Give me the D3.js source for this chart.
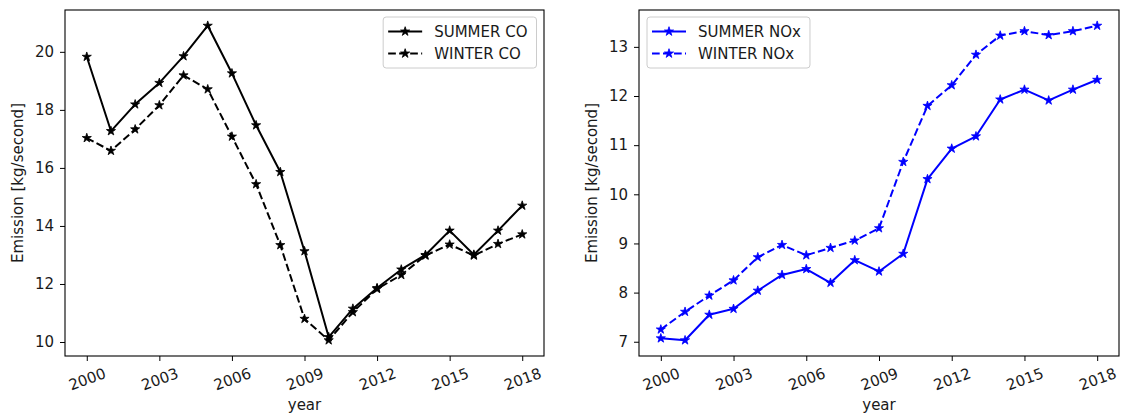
<!DOCTYPE html>
<html>
<head>
<meta charset="utf-8">
<script src="https://cdn.jsdelivr.net/npm/d3@7"></script>
<style>
  body { margin: 0; background: #fff; }
  svg { display: block; }
  text { font-family: "DejaVu Sans", sans-serif; fill: #1a1a1a; }
</style>
</head>
<body>
<svg id="fig" width="1123" height="419"></svg>
<script>
// Annual emissions, 2000–2018
const years = [2000, 2001, 2002, 2003, 2004, 2005, 2006, 2007, 2008, 2009,
               2010, 2011, 2012, 2013, 2014, 2015, 2016, 2017, 2018];
const summerCO = [19.83, 17.27, 18.19, 18.93, 19.85, 20.90, 19.26, 17.47, 15.86, 13.13,
                  10.17, 11.15, 11.86, 12.50, 13.00, 13.84, 13.01, 13.84, 14.70];
const winterCO = [17.03, 16.59, 17.33, 18.16, 19.19, 18.71, 17.08, 15.44, 13.34, 10.80,
                  10.06, 11.03, 11.83, 12.31, 12.98, 13.36, 12.98, 13.38, 13.71];
const summerNOx = [7.07, 7.03, 7.55, 7.67, 8.04, 8.36, 8.48, 8.20, 8.66, 8.43,
                   8.79, 10.31, 10.93, 11.18, 11.93, 12.13, 11.91, 12.13, 12.33];
const winterNOx = [7.25, 7.61, 7.94, 8.25, 8.72, 8.97, 8.76, 8.91, 9.06, 9.31,
                   10.66, 11.80, 12.22, 12.84, 13.23, 13.32, 13.24, 13.32, 13.43];

const yearTicks = [2000, 2003, 2006, 2009, 2012, 2015, 2018];
const coTicks = [10, 12, 14, 16, 18, 20];
const noxTicks = [7, 8, 9, 10, 11, 12, 13];
const coLabels = ["SUMMER CO", "WINTER CO"];
const noxLabels = ["SUMMER NOx", "WINTER NOx"];
const xLabel = "year";
const yLabel = "Emission [kg/second]";

const svg = d3.select("#fig");
const FONT = 15;
const DASH = "7.7,3.3";
const star = d3.symbol().type(d3.symbolStar).size(26);

// matplotlib-style 5% autoscale margin
function padded(values) {
  const [lo, hi] = d3.extent(values);
  const m = (hi - lo) * 0.05;
  return [lo - m, hi + m];
}

function drawPanel(cfg) {
  const { left, right, top, bottom, color, series, yTicks, legendAt, ylabelX } = cfg;
  const g = svg.append("g");

  const x = d3.scaleLinear().domain(padded(years)).range([left, right]);
  const y = d3.scaleLinear()
    .domain(padded(series.flatMap(s => s.values)))
    .range([bottom, top]);

  // x axis
  const xa = g.append("g")
    .attr("transform", `translate(0,${bottom})`)
    .call(d3.axisBottom(x).tickValues(yearTicks).tickFormat(d3.format("d")).tickSize(5));
  xa.select(".domain").remove();
  xa.selectAll(".tick line").attr("stroke", "#000").attr("stroke-width", 1);
  xa.selectAll(".tick text")
    .attr("y", null).attr("dy", "0.35em")
    .attr("transform", "translate(0,23) rotate(-20)")
    .attr("font-size", FONT).attr("fill", "#1a1a1a");

  // y axis
  const ya = g.append("g")
    .attr("transform", `translate(${left},0)`)
    .call(d3.axisLeft(y).tickValues(yTicks).tickFormat(d3.format("d")).tickSize(5).tickPadding(6));
  ya.select(".domain").remove();
  ya.selectAll(".tick line").attr("stroke", "#000").attr("stroke-width", 1);
  ya.selectAll(".tick text").attr("font-size", FONT).attr("fill", "#1a1a1a");

  // lines and star markers
  const line = d3.line().x((d, i) => x(years[i])).y(d => y(d));
  series.forEach(s => {
    g.append("path")
      .attr("d", line(s.values))
      .attr("fill", "none")
      .attr("stroke", color)
      .attr("stroke-width", 2)
      .attr("stroke-linejoin", "round")
      .attr("stroke-dasharray", s.dashed ? DASH : null);
    g.append("g").selectAll("path")
      .data(s.values)
      .join("path")
      .attr("d", star)
      .attr("transform", (d, i) => `translate(${x(years[i])},${y(d)})`)
      .attr("fill", color)
      .attr("stroke", color)
      .attr("stroke-width", 0.8);
  });

  // frame
  g.append("rect")
    .attr("x", left).attr("y", top)
    .attr("width", right - left).attr("height", bottom - top)
    .attr("fill", "none").attr("stroke", "#000").attr("stroke-width", 1.1);

  // axis titles
  g.append("text")
    .attr("x", (left + right) / 2).attr("y", 410)
    .attr("text-anchor", "middle").attr("font-size", FONT)
    .text(xLabel);
  g.append("text")
    .attr("transform", `translate(${ylabelX},${(top + bottom) / 2}) rotate(-90)`)
    .attr("text-anchor", "middle").attr("font-size", FONT)
    .text(yLabel);

  // legend
  const lg = g.append("g");
  const box = lg.append("rect")
    .attr("y", top + 7).attr("height", 51)
    .attr("rx", 3).attr("ry", 3)
    .attr("fill", "#fff").attr("fill-opacity", 0.8)
    .attr("stroke", "#cccccc").attr("stroke-width", 1);
  const rows = lg.append("g");
  let maxW = 0;
  series.forEach((s, i) => {
    const ry = top + 21.5 + i * 22;
    rows.append("line")
      .attr("x1", 5).attr("x2", 39).attr("y1", ry).attr("y2", ry)
      .attr("stroke", color).attr("stroke-width", 2)
      .attr("stroke-dasharray", s.dashed ? DASH : null);
    rows.append("path")
      .attr("d", star)
      .attr("transform", `translate(22,${ry})`)
      .attr("fill", color).attr("stroke", color).attr("stroke-width", 0.8);
    const t = rows.append("text")
      .attr("x", 51).attr("y", ry).attr("dy", "0.36em")
      .attr("font-size", FONT)
      .text(s.label);
    maxW = Math.max(maxW, t.node().getComputedTextLength());
  });
  const boxW = 51 + maxW + 9;
  box.attr("width", boxW);
  const bx = legendAt === "right" ? right - 7.5 - boxW : left + 8;
  box.attr("x", bx);
  rows.attr("transform", `translate(${bx},0)`);
}

drawPanel({
  left: 65, right: 544, top: 10, bottom: 356,
  color: "#000000",
  series: [
    { values: summerCO, dashed: false, label: coLabels[0] },
    { values: winterCO, dashed: true, label: coLabels[1] }
  ],
  yTicks: coTicks, legendAt: "right", ylabelX: 23
});

drawPanel({
  left: 639, right: 1119, top: 10, bottom: 356,
  color: "#0000ff",
  series: [
    { values: summerNOx, dashed: false, label: noxLabels[0] },
    { values: winterNOx, dashed: true, label: noxLabels[1] }
  ],
  yTicks: noxTicks, legendAt: "left", ylabelX: 597
});
</script>
</body>
</html>
